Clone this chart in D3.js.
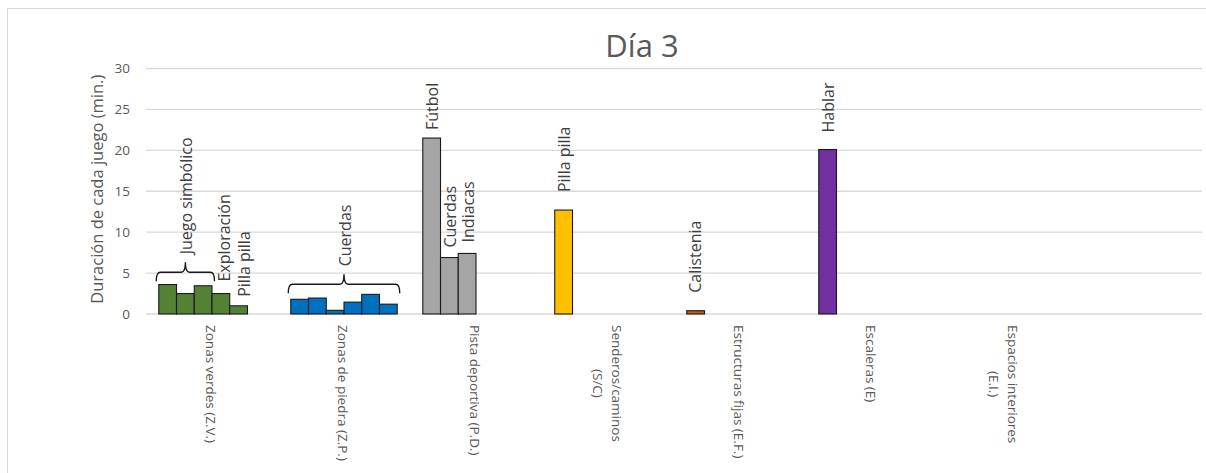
<!DOCTYPE html>
<html>
<head>
<meta charset="utf-8">
<script src="https://cdn.jsdelivr.net/npm/d3@7"></script>
<style>
  html, body { margin: 0; padding: 0; background: #fff; }
  svg { display: block; font-family: "Open Sans", "DejaVu Sans", sans-serif; }
</style>
</head>
<body>
<svg id="chart" width="1206" height="473"></svg>
<script>
// ---- Data ----
const title = "Día 3";
const yAxisTitle = "Duración de cada juego (min.)";
const yTicks = [0, 5, 10, 15, 20, 25, 30];

// Category labels, one array of lines per category (last slot is empty)
const categories = [
  ["Zonas verdes (Z.V.)"],
  ["Zonas de piedra (Z.P.)"],
  ["Pista deportiva (P.D.)"],
  ["Senderos/caminos", "(S/C)"],
  ["Estructuras fijas (E.F.)"],
  ["Escaleras (E)"],
  ["Espacios interiores", "(E.I.)"],
  [""]
];

// Duration of each game (minutes), per category
const zonasVerdes     = [3.6, 2.5, 3.45, 2.5, 1.0];
const zonasPiedra     = [1.8, 1.95, 0.45, 1.45, 2.4, 1.2];
const pistaDeportiva  = [21.5, 6.9, 7.4];
const senderos        = [12.7];
const estructuras     = [0.4];
const escaleras       = [20.1];
const espacios        = [];
const values = [zonasVerdes, zonasPiedra, pistaDeportiva, senderos, estructuras, escaleras, espacios, []];

// Game names written over single bars
const zonasVerdesGames    = [null, null, null, "Exploración", "Pilla pilla"];
const pistaDeportivaGames = ["Fútbol", "Cuerdas", "Indiacas"];
const senderosGames       = ["Pilla pilla"];
const estructurasGames    = ["Calistenia"];
const escalerasGames      = ["Hablar"];
const gameNames = [zonasVerdesGames, [], pistaDeportivaGames, senderosGames, estructurasGames, escalerasGames, [], []];

// Game names written over a bracket that groups several bars
const groupCategory = [0, 1];
const groupFirst    = [0, 0];
const groupLast     = [2, 5];
const groupLevel    = [5.1, 3.63];
const groupName     = ["Juego simbólico", "Cuerdas"];

// ---- Styling ----
const colors = ["#548235", "#0070C0", "#A5A5A5", "#FFC000", "#C55A11", "#7030A0", "#4472C4", "#70AD47"];
// gap (px) between a bar top and its name, and sideways nudge
const labelGap   = [[0, 0, 0, 12, 9], [], [8, 10, 11], [18], [18], [17], [], []];
const labelNudge = [[0, 0, 0, 4, 5.5], [], [1, 1, 1.5], [1], [0], [1], [], []];
const slotCount = 6;

// ---- Layout ----
const svg = d3.select("#chart");
const plot = { left: 146, right: 1202, top: 68.5, bottom: 314 };

const x0 = d3.scaleBand().domain(d3.range(categories.length)).range([plot.left, plot.right]).paddingInner(0).paddingOuter(0);
const x1 = d3.scaleBand().domain(d3.range(slotCount)).range([0, x0.bandwidth()]).paddingInner(0).paddingOuter(0.72);
const y = d3.scaleLinear().domain([0, 30]).range([plot.bottom, plot.top]);

// chart frame
svg.append("rect")
  .attr("x", 7.5).attr("y", 8.5).attr("width", 1240).attr("height", 500)
  .attr("fill", "#fff").attr("stroke", "#d9d9d9").attr("stroke-width", 1);

// gridlines
svg.append("g").selectAll("line").data(yTicks).join("line")
  .attr("x1", plot.left).attr("x2", plot.right)
  .attr("y1", d => y(d)).attr("y2", d => y(d))
  .attr("stroke", "#d9d9d9").attr("stroke-width", 1.4);

// y axis (labels only)
const yAxis = d3.axisLeft(y).tickValues(yTicks).tickSize(0).tickPadding(16);
const gy = svg.append("g").attr("transform", `translate(${plot.left},0)`).call(yAxis);
gy.select(".domain").remove();
gy.selectAll("text").attr("fill", "#595959").style("font-size", "13.5px").style("font-family", "'Open Sans'");

// y axis title
svg.append("text")
  .attr("transform", `translate(97,${(plot.top + plot.bottom) / 2 - 2}) rotate(-90)`)
  .attr("text-anchor", "middle").attr("dy", "0.35em")
  .attr("fill", "#595959").style("font-size", "16.5px")
  .text(yAxisTitle);

// chart title
svg.append("text")
  .attr("x", 642).attr("y", 57)
  .attr("text-anchor", "middle")
  .attr("fill", "#595959").style("font-size", "31px")
  .text(title);

// bars
const barData = [];
values.forEach((vals, c) => vals.forEach((v, s) => barData.push({ c, s, v })));
svg.append("g").selectAll("rect").data(barData).join("rect")
  .attr("x", d => x0(d.c) + x1(d.s))
  .attr("y", d => y(d.v))
  .attr("width", x1.bandwidth())
  .attr("height", d => y(0) - y(d.v))
  .attr("fill", d => colors[d.c])
  .attr("stroke", "#1a1a1a").attr("stroke-width", 1.1);

// category labels (rotated, reading top to bottom)
const catG = svg.append("g");
categories.forEach((lines, c) => {
  const cx = x0(c) + x0.bandwidth() / 2;
  const t = catG.append("text")
    .attr("fill", "#595959").style("font-size", "13.5px")
    .attr("text-anchor", "middle");
  const lineH = 19;
  lines.forEach((ln, k) => {
    t.append("tspan").attr("x", 0)
      .attr("y", (k - (lines.length - 1) / 2) * lineH)
      .attr("dy", "0.35em")
      .text(ln);
  });
  let maxW = 0;
  t.selectAll("tspan").each(function () { maxW = Math.max(maxW, this.getComputedTextLength()); });
  t.attr("transform", `translate(${cx - 1},325) rotate(90) translate(${maxW / 2},0)`);
});

// game names over bars (rotated, reading bottom to top)
const nameG = svg.append("g");
barData.forEach(d => {
  const name = (gameNames[d.c] || [])[d.s];
  if (!name) return;
  const bx = x0(d.c) + x1(d.s) + x1.bandwidth() / 2 + labelNudge[d.c][d.s];
  const by = y(d.v) - labelGap[d.c][d.s];
  nameG.append("text")
    .attr("transform", `translate(${bx},${by}) rotate(-90)`)
    .attr("dy", "0.35em")
    .attr("fill", "#404040").style("font-size", "16px")
    .text(name);
});

// brackets grouping several bars, with their game names
groupName.forEach((name, i) => {
  const c = groupCategory[i];
  const xa = x0(c) + x1(groupFirst[i]) - 2.5;
  const xb = x0(c) + x1(groupLast[i]) + x1.bandwidth() + 2.5;
  const xm = (xa + xb) / 2;
  const yh = y(groupLevel[i]);
  const drop = 9, rise = 10, r = 4;
  const path = `M${xa},${yh + drop} Q${xa},${yh} ${xa + r},${yh} L${xm - r},${yh} Q${xm},${yh} ${xm},${yh - rise}` +
               ` Q${xm},${yh} ${xm + r},${yh} L${xb - r},${yh} Q${xb},${yh} ${xb},${yh + drop}`;
  svg.append("path").attr("d", path)
    .attr("fill", "none").attr("stroke", "#1a1a1a").attr("stroke-width", 1.4);
  nameG.append("text")
    .attr("transform", `translate(${xm + 1.5},${yh - rise - 8}) rotate(-90)`)
    .attr("dy", "0.35em")
    .attr("fill", "#404040").style("font-size", "16px")
    .text(name);
});
</script>
</body>
</html>
